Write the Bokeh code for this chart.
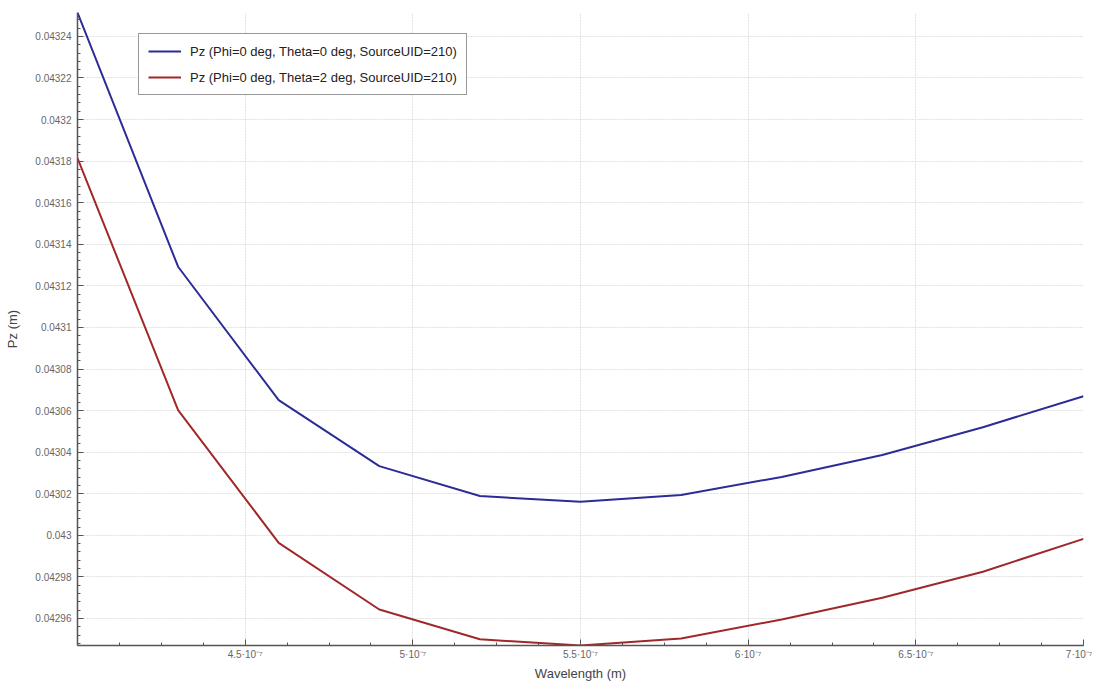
import numpy as np
from bokeh.plotting import figure
from bokeh.models import (ColumnDataSource, FixedTicker, CustomJSTickFormatter,
                          Range1d, Legend, LegendItem)
from bokeh.embed import file_html
from bokeh.resources import INLINE

# ---- data ----
wavelength = [4.0e-7, 4.3e-7, 4.6e-7, 4.9e-7, 5.2e-7, 5.5e-7, 5.8e-7, 6.1e-7, 6.4e-7, 6.7e-7, 7.0e-7]
pz_theta0 = [0.0432515, 0.0431292, 0.0430650, 0.0430333, 0.0430189, 0.0430161,
             0.0430194, 0.0430281, 0.0430386, 0.0430520, 0.0430669]
pz_theta2 = [0.0431815, 0.0430602, 0.0429964, 0.0429643, 0.0429500, 0.0429470,
             0.0429504, 0.0429595, 0.0429700, 0.0429825, 0.0429983]
label0 = "Pz (Phi=0 deg, Theta=0 deg, SourceUID=210)"
label2 = "Pz (Phi=0 deg, Theta=2 deg, SourceUID=210)"
x_major = [4.5e-7, 5.0e-7, 5.5e-7, 6.0e-7, 6.5e-7, 7.0e-7]
y_major = [0.04296, 0.04298, 0.04300, 0.04302, 0.04304, 0.04306, 0.04308, 0.04310,
           0.04312, 0.04314, 0.04316, 0.04318, 0.04320, 0.04322, 0.04324]

x_minor = list(np.arange(4.0e-7, 7.0e-7 + 1e-12, 0.125e-7))
y_minor = list(np.arange(0.04296 - 0.000004 * 3, 0.043251, 0.000004))

src = ColumnDataSource(dict(x=wavelength, a=pz_theta0, b=pz_theta2))

FONT = "Liberation Sans"

p = figure(width=1092, height=683, output_backend="svg", toolbar_location=None,
           x_range=Range1d(4.0e-7, 7.0e-7), y_range=Range1d(0.042947, 0.0432515),
           min_border_left=77, min_border_right=9, min_border_top=12, min_border_bottom=36,
           background_fill_color="white", border_fill_color="white")
p.outline_line_color = None

r0 = p.line("x", "a", source=src, line_color="#2c2c96", line_width=2)
r2 = p.line("x", "b", source=src, line_color="#a0282a", line_width=2)

# axes
p.xaxis.ticker = FixedTicker(ticks=x_major, minor_ticks=x_minor)
p.yaxis.ticker = FixedTicker(ticks=y_major, minor_ticks=y_minor)
p.xaxis.formatter = CustomJSTickFormatter(code="""
    const v = Math.round(tick*1e8)/10;
    return v + "\u00b710\u207b\u2077";
""")
p.yaxis.formatter = CustomJSTickFormatter(code="""
    return parseFloat(tick.toFixed(5)).toString();
""")
p.xaxis.axis_label = "Wavelength (m)"
p.yaxis.axis_label = "Pz (m)"
for ax in (p.xaxis, p.yaxis):
    ax.axis_line_color = "#555555"
    ax.axis_line_width = 1.5
    ax.major_tick_line_color = "#555555"
    ax.minor_tick_line_color = "#555555"
    ax.major_tick_in = 6
    ax.major_tick_out = 0
    ax.minor_tick_in = 3
    ax.minor_tick_out = 0
    ax.major_label_text_font = FONT
    ax.major_label_text_font_size = "10px"
    ax.major_label_text_color = "#666666"
    ax.axis_label_text_font = FONT
    ax.axis_label_text_font_size = "13px"
    ax.axis_label_text_font_style = "normal"
    ax.axis_label_text_color = "#444444"
p.yaxis.major_label_standoff = 6
p.yaxis.axis_label_standoff = 12
p.xaxis.major_label_standoff = 3
p.xaxis.axis_label_standoff = 3

# grid
p.grid.grid_line_color = "#e0e0e0"
p.grid.grid_line_dash = "2 1"
p.grid.grid_line_width = 1

legend = Legend(items=[LegendItem(label=label0, renderers=[r0]),
                       LegendItem(label=label2, renderers=[r2])],
                location=(61, 550))
legend.border_line_color = "#333333"
legend.border_line_width = 1.2
legend.background_fill_color = "white"
legend.background_fill_alpha = 1
legend.label_text_font = FONT
legend.label_text_font_size = "13px"
legend.label_text_color = "#222222"
legend.glyph_width = 33
legend.glyph_height = 16
legend.label_height = 16
legend.label_standoff = 9
legend.spacing = 10
legend.padding = 9
legend.margin = 0
p.add_layout(legend, "center")

open("out.html", "w").write(file_html(p, INLINE))
